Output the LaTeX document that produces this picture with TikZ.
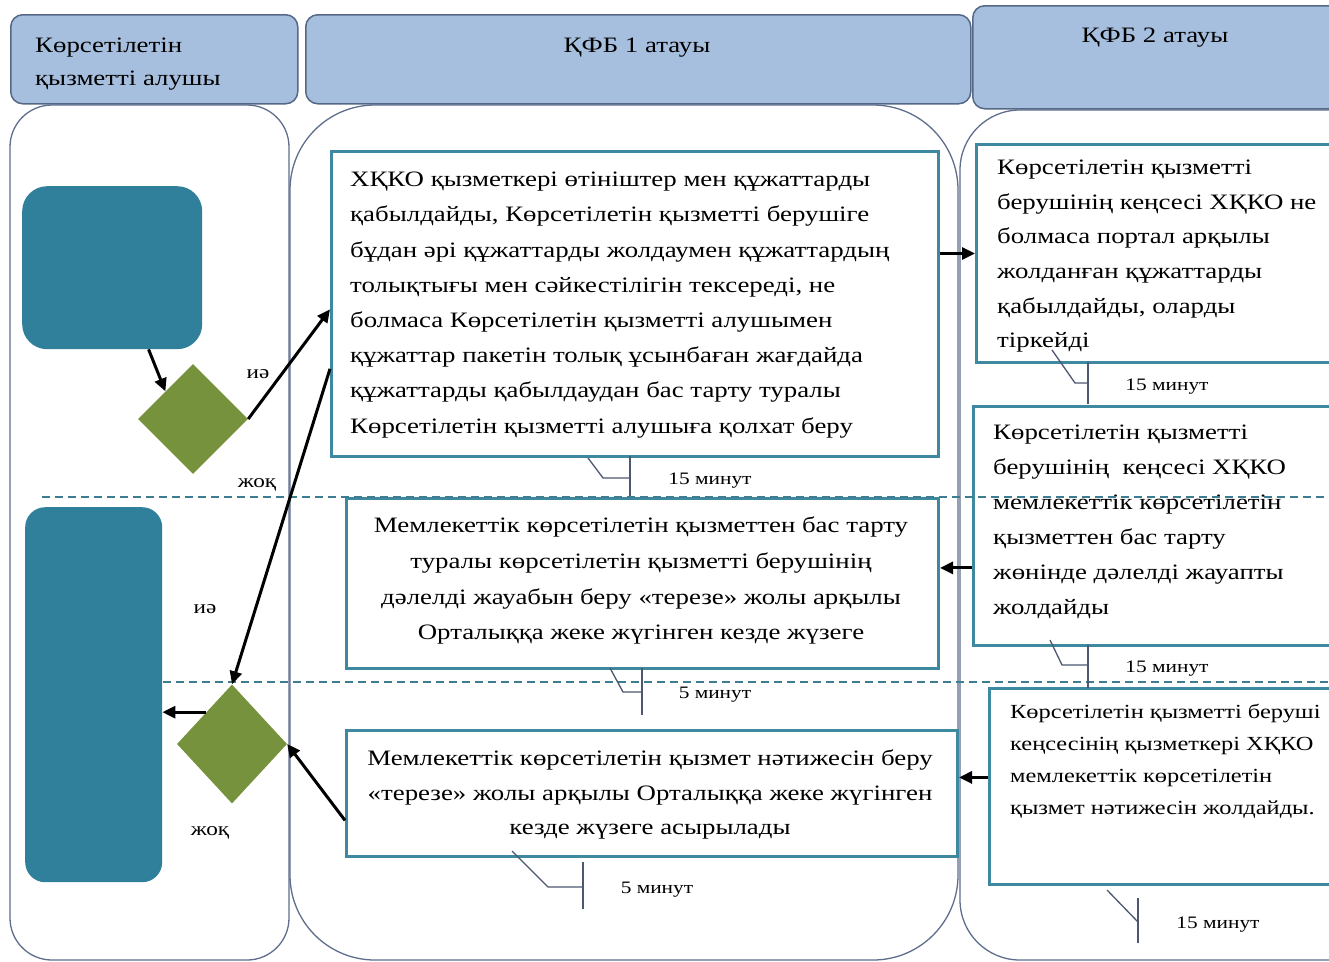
\documentclass[tikz,border=0pt]{standalone}
\usepackage{fontspec}
\setmainfont{Liberation Serif}[FakeStretch=1.22]
\usetikzlibrary{arrows.meta,shapes.geometric}
\definecolor{headfill}{RGB}{167,191,222}
\definecolor{headdraw}{RGB}{85,105,135}
\definecolor{lanedraw}{RGB}{95,110,140}
\definecolor{boxdraw}{RGB}{62,136,160}
\definecolor{tealfill}{RGB}{49,128,155}
\definecolor{dgreen}{RGB}{119,146,60}
\definecolor{dashcol}{RGB}{60,125,145}
\begin{document}
\begin{tikzpicture}[x=1pt,y=-1pt,
  head/.style={draw=headdraw,fill=headfill,line width=1.5pt,rounded corners=12pt,anchor=north west,inner sep=0pt},
  lane/.style={draw=lanedraw,line width=1.3pt,fill=white},
  box/.style={draw=boxdraw,fill=white,line width=3pt,anchor=north west,inner sep=0pt},
  tealbox/.style={fill=tealfill,anchor=north west,inner sep=0pt},
  dia/.style={shape=diamond,fill=dgreen,inner sep=0pt},
  txt/.style={font=\fontsize{22}{35.2}\selectfont,inner sep=0pt,align=left,anchor=north west},
  htxt/.style={font=\fontsize{22}{33}\selectfont,inner sep=0pt},
  lbl/.style={font=\fontsize{19}{20}\selectfont,inner sep=0pt},
  tm/.style={font=\fontsize{17.5}{19}\selectfont,inner sep=0pt},
  call/.style={draw=lanedraw!80!black,line width=1.3pt},
  arr/.style={line width=3pt,-{Triangle[length=13pt,width=12pt]}},
  dsh/.style={draw=dashcol,line width=1.2pt,dash pattern=on 8pt off 5pt}]
\useasboundingbox (0,0) rectangle (1329,961);
\clip (0,0) rectangle (1329,961);
\fill[white] (0,0) rectangle (1329,961);

% lanes
\draw[lane,rounded corners=42pt] (10,105) rectangle (289,960);
\draw[lane,rounded corners=85pt] (290,105) rectangle (958,960);
\draw[lane,rounded corners=60pt] (960,110) rectangle (1390,960);

% headers
\node[head,minimum width=287pt,minimum height=89pt] (h1) at (10,14) {};
\node[head,minimum width=665pt,minimum height=89pt] (h2) at (305,14) {};
\node[head,minimum width=420pt,minimum height=103pt] (h3) at (972,5) {};
\node[htxt,anchor=north west,align=left] (h1t) at (35,38) {Көрсетілетін\\қызметті алушы};
\node[htxt] (h2t) at (637,48) {ҚФБ 1 атауы};
\node[htxt] (h3t) at (1155,38) {ҚФБ 2 атауы};

% left column shapes
\node[tealbox,rounded corners=25pt,minimum width=180pt,minimum height=163pt] (r1) at (22,186) {};
\node[tealbox,rounded corners=20pt,minimum width=137pt,minimum height=375pt] (r2) at (25,507) {};
\node[dia,minimum width=110pt,minimum height=110pt] (d1) at (193,419) {};
\node[dia,minimum width=110pt,minimum height=119pt] (d2) at (232,744) {};
\node[lbl] (ye1) at (258,374) {иә};
\node[lbl] (no1) at (257,485) {жоқ};
\node[lbl] (ye2) at (205,609) {иә};
\node[lbl] (no2) at (210,833) {жоқ};

% middle boxes
\node[box,minimum width=607pt,minimum height=305pt] (b1) at (330,150) {};
\node[box,minimum width=592pt,minimum height=170pt] (b2) at (345,497) {};
\node[box,minimum width=611pt,minimum height=126pt] (b3) at (345,729) {};
\node[txt] (b1t) at (350,172) {ХҚКО қызметкері өтініштер мен құжаттарды\\қабылдайды, Көрсетілетін қызметті берушіге\\бұдан әрі құжаттарды жолдаумен құжаттардың\\толықтығы мен сәйкестілігін тексереді, не\\болмаса Көрсетілетін қызметті алушымен\\құжаттар пакетін толық ұсынбаған жағдайда\\құжаттарды қабылдаудан бас тарту туралы\\Көрсетілетін қызметті алушыға қолхат беру};
\node[txt,align=center,anchor=north,font=\fontsize{22}{35.6}\selectfont] (b2t) at (641,517) {Мемлекеттік көрсетілетін қызметтен бас тарту\\туралы көрсетілетін қызметті берушінің\\дәлелді жауабын беру «терезе» жолы арқылы\\Орталыққа жеке жүгінген кезде жүзеге};
\node[txt,align=center,anchor=north,font=\fontsize{22}{34.5}\selectfont] (b3t) at (650,750) {Мемлекеттік көрсетілетін қызмет нәтижесін беру\\«терезе» жолы арқылы Орталыққа жеке жүгінген\\кезде жүзеге асырылады};

% right boxes
\node[box,minimum width=400pt,minimum height=218pt] (rb1) at (975,143) {};
\node[box,minimum width=400pt,minimum height=239pt] (rb2) at (972,405) {};
\node[box,minimum width=400pt,minimum height=196pt] (rb3) at (988,687) {};
\node[txt,font=\fontsize{22}{34.6}\selectfont] (rb1t) at (997,160) {Көрсетілетін қызметті\\берушінің кеңсесі ХҚКО не\\болмаса портал арқылы\\жолданған құжаттарды\\қабылдайды, оларды\\тіркейді};
\node[txt,font=\fontsize{22}{35}\selectfont] (rb2t) at (993,425) {Көрсетілетін қызметті\\берушінің~ кеңсесі ХҚКО\\мемлекеттік көрсетілетін\\қызметтен бас тарту\\жөнінде дәлелді жауапты\\жолдайды};
\node[txt,font=\fontsize{20}{32}\selectfont] (rb3t) at (1010,704) {Көрсетілетін қызметті беруші\\кеңсесінің қызметкері ХҚКО\\мемлекеттік көрсетілетін\\қызмет нәтижесін жолдайды.};

% dashed separators
\draw[dsh] (42,497) -- (1329,497);
\draw[dsh] (163,682) -- (1329,682);

% callouts
\draw[call] (588,458) -- (603,478) -- (630,478);
\draw[call] (630,456) -- (630,496);
\node[tm] (m1) at (710,481) {15 минут};
\draw[call] (610,668) -- (623,692) -- (642,692);
\draw[call] (642,668) -- (642,715);
\node[tm] (m2) at (715,695) {5 минут};
\draw[call] (512,851) -- (548,887) -- (583,887);
\draw[call] (583,862) -- (583,909);
\node[tm] (m3) at (657,890) {5 минут};
\draw[call] (1052,350) -- (1075,383) -- (1088,383);
\draw[call] (1088,362) -- (1088,404);
\node[tm] (m4) at (1167,387) {15 минут};
\draw[call] (1050,640) -- (1062,665) -- (1088,665);
\draw[call] (1088,645) -- (1088,688);
\node[tm] (m5) at (1167,669) {15 минут};
\draw[call] (1107,890) -- (1138,922);
\draw[call] (1138,898) -- (1138,943);
\node[tm] (m6) at (1218,925) {15 минут};

% arrows
\draw[arr] (r1.-66) -- (d1.north west);
\draw[arr] (d1.east) -- (b1.181);
\draw[arr] (b1.192.5) -- (d2.north);
\draw[arr] (d2.129) -- (d2.129 -| r2.east);
\draw[arr] (b3.185) -- (d2.east);
\draw[arr] (b1.east |- rb1.west) -- (rb1.west);
\draw[arr] (b2.3.3 -| rb2.west) -- (b2.3.3);
\draw[arr] (b3.3.6 -| rb3.west) -- (b3.3.6);
\end{tikzpicture}
\end{document}
